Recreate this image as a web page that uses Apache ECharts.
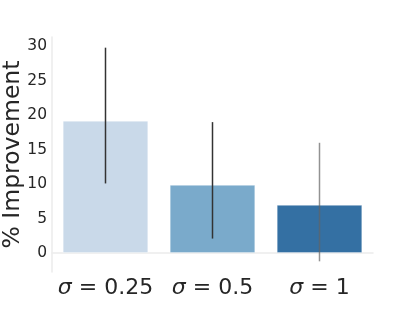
<!DOCTYPE html>
<html><head><meta charset="utf-8">
<script src="https://cdn.jsdelivr.net/npm/echarts@6/dist/echarts.min.js"></script>
<style>html,body{margin:0;padding:0;background:#fff}#c{width:415px;height:312px}</style>
</head><body><div id="c"></div>
<script>
const categories = ['0.25', '0.5', '1'];
const values = [19.2, 9.9, 7.0];
const errLow = [10.1, 2.1, -1.2];
const errHigh = [29.8, 19.0, 16.0];
const yTicks = [0, 5, 10, 15, 20, 25, 30];
const barColors = ['#c9d9e9', '#7aaacb', '#3470a3'];
const errColors = ['#333333', '#333333', 'rgba(100,100,100,0.7)'];

const chart = echarts.init(document.getElementById('c'), null, {renderer: 'canvas'});
chart.setOption({
  animation: false,
  grid: {left: 52, right: 42, top: 37, bottom: 40, containLabel: false, outerBoundsMode: 'none'},
  xAxis: {
    type: 'category',
    data: categories,
    boundaryGap: true,
    axisLine: {show: true, lineStyle: {color: '#ebebeb', width: 1.5}},
    axisTick: {show: false},
    axisLabel: {
      margin: 5,
      interval: 0,
      hideOverlap: false,
      formatter: v => '{s|σ}{n| = ' + v + '}',
      rich: {
        s: {fontFamily: 'DejaVu Sans', fontStyle: 'italic', fontSize: 22, color: '#262626'},
        n: {fontFamily: 'DejaVu Sans', fontSize: 22, color: '#262626'}
      }
    },
    splitLine: {show: false}
  },
  yAxis: {
    type: 'value',
    min: -2.75,
    max: 31.35,
    name: '% Improvement',
    nameLocation: 'middle',
    nameGap: 27,
    nameMoveOverlap: false,
    nameRotate: 90,
    nameTextStyle: {fontFamily: 'DejaVu Sans', fontSize: 23.5, color: '#262626'},
    axisLine: {show: true, lineStyle: {color: '#ebebeb', width: 1.5}},
    axisTick: {show: false},
    splitLine: {show: false},
    axisLabel: {
      customValues: yTicks,
      margin: 5,
      fontFamily: 'DejaVu Sans', fontSize: 15.5, color: '#262626'
    }
  },
  series: [
    {
      type: 'bar',
      barWidth: '80%',
      data: values.map((v, i) => ({value: v, itemStyle: {color: barColors[i], borderColor: 'rgba(255,255,255,0.35)', borderWidth: 1}})),
      z: 2
    },
    {
      type: 'custom',
      z: 5,
      data: categories.map((c, i) => [i, errLow[i], errHigh[i]]),
      renderItem: function (params, api) {
        const i = api.value(0);
        const p1 = api.coord([i, api.value(1)]);
        const p2 = api.coord([i, api.value(2)]);
        return {
          type: 'line',
          shape: {x1: p1[0], y1: p1[1], x2: p2[0], y2: p2[1]},
          style: {stroke: errColors[params.dataIndex], lineWidth: 1.5}
        };
      }
    }
  ]
});
</script></body></html>
